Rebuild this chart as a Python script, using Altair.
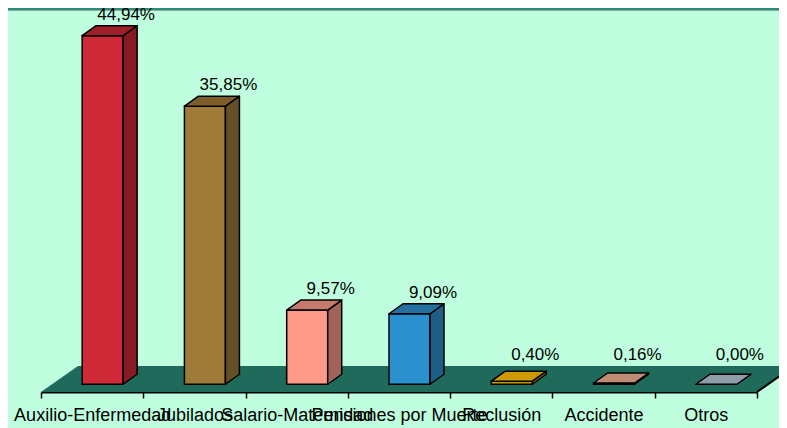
import altair as alt
import pandas as pd

# ---- data ----
categories = ["Auxilio-Enfermedad", "Jubilados", "Salario-Maternidad",
              "Pensiones por Muerte", "Reclusión", "Accidente", "Otros"]
values = [44.94, 35.85, 9.57, 9.09, 0.40, 0.16, 0.00]
value_labels = ["44,94%", "35,85%", "9,57%", "9,09%", "0,40%", "0,16%", "0,00%"]

front_colors = ["#CF2836", "#A07A38", "#FF9A8A", "#2A90CE", "#C89600", "#B07C66", "#7E8C98"]
side_colors = ["#871A22", "#654F24", "#A0645A", "#1D5E86", "#8A6A00", "#7E5646", "#5E6A74"]
top_colors = ["#A0202A", "#7E5E2A", "#C47A6C", "#2470A0", "#CC9900", "#C08C74", "#8E9DAA"]

# ---- layout constants (pixels) ----
W, H = 716, 380
X_MAX = len(categories)
Y_MIN, Y_MAX = -1, 48
PXX = W / X_MAX
PXY = H / (Y_MAX - Y_MIN)
BAR_SHIFT, BAR_W = 10.5, 41
DDX, DDY = 14 / PXX, 10 / PXY
FDX, FDY = 37 / PXX, 26 / PXY

front_rows, side_rows, top_rows, label_rows = [], [], [], []
for i, (c, v) in enumerate(zip(categories, values)):
    fl = i + 0.5 + (BAR_SHIFT - BAR_W / 2) / PXX
    fr = fl + BAR_W / PXX
    front_rows.append(dict(cat=c, x=fl, x2=fr, y=0, y2=v, fill=front_colors[i]))
    side_rows += [dict(cat=c, x=fr, y=0, y2=v, fill=side_colors[i]),
                  dict(cat=c, x=fr + DDX, y=DDY, y2=v + DDY, fill=side_colors[i])]
    top_rows += [dict(cat=c, y=v, x=fl, x2=fr, fill=top_colors[i]),
                 dict(cat=c, y=v + DDY, x=fl + DDX, x2=fr + DDX, fill=top_colors[i])]
    label_rows.append(dict(cat=c, ly=max(v, 1.0), text=value_labels[i]))

floor_rows = [dict(y=Y_MIN, x=0, x2=X_MAX),
              dict(y=Y_MIN + FDY, x=FDX, x2=X_MAX + FDX)]
edge_rows = [dict(x=X_MAX, y=Y_MIN, x2=X_MAX + FDX, y2=Y_MIN + FDY)]

xq = alt.Scale(domain=[0, X_MAX], nice=False, zero=False)
yq = alt.Scale(domain=[Y_MIN, Y_MAX], nice=False, zero=False)

band = alt.Chart(pd.DataFrame({"a": [0]})).mark_rect(color="#2A8C7A").encode(
    x=alt.value(-33), x2=alt.value(760), y=alt.value(-4), y2=alt.value(-2))
band_line = alt.Chart(pd.DataFrame({"a": [0]})).mark_rect(color="#8FA8A0").encode(
    x=alt.value(-33), x2=alt.value(760), y=alt.value(-2), y2=alt.value(-1))

floor = alt.Chart(pd.DataFrame(floor_rows)).mark_area(
    orient="horizontal", color="#1F6A5A").encode(
    y=alt.Y("y:Q", scale=yq, axis=None),
    x=alt.X("x:Q", scale=xq, axis=None),
    x2="x2:Q")

edge = alt.Chart(pd.DataFrame(edge_rows)).mark_rule(color="black", strokeWidth=2).encode(
    x=alt.X("x:Q", scale=xq, axis=None), x2="x2:Q",
    y=alt.Y("y:Q", scale=yq, axis=None), y2="y2:Q")

front = alt.Chart(pd.DataFrame(front_rows)).mark_rect(stroke="black", strokeWidth=1.5).encode(
    x=alt.X("x:Q", scale=xq, axis=None), x2="x2:Q",
    y=alt.Y("y:Q", scale=yq, axis=None), y2="y2:Q",
    fill=alt.Fill("fill:N", scale=None))

side = alt.Chart(pd.DataFrame(side_rows)).mark_area(
    orient="vertical", stroke="black", strokeWidth=1.5, strokeJoin="round").encode(
    x=alt.X("x:Q", scale=xq, axis=None),
    y=alt.Y("y:Q", scale=yq, axis=None), y2="y2:Q",
    fill=alt.Fill("fill:N", scale=None), detail="cat:N")

top = alt.Chart(pd.DataFrame(top_rows)).mark_area(
    orient="horizontal", stroke="black", strokeWidth=1.5, strokeJoin="round").encode(
    y=alt.Y("y:Q", scale=yq, axis=None),
    x=alt.X("x:Q", scale=xq, axis=None), x2="x2:Q",
    fill=alt.Fill("fill:N", scale=None), detail="cat:N")

labels = alt.Chart(pd.DataFrame(label_rows)).mark_text(
    font="Liberation Sans", fontSize=17, color="black", baseline="middle",
    align="center", dx=34, dy=-21).encode(
    x=alt.X("cat:N", sort=categories,
            scale=alt.Scale(paddingInner=0, paddingOuter=0),
            axis=alt.Axis(title=None, labelAngle=0, labelFont="Liberation Sans",
                          labelFontSize=18, labelColor="black", labelOverlap=False,
                          labelLimit=500, labelPadding=8, tickBand="extent",
                          tickSize=6, tickColor="black", tickWidth=1.5,
                          domainColor="black", domainWidth=2, grid=False)),
    y=alt.Y("ly:Q", scale=yq, axis=None),
    text="text:N")

chart = alt.layer(band, band_line, floor, edge, front, side, top, labels).resolve_scale(
    x="independent").properties(
    width=W, height=H,
    autosize=alt.AutoSizeParams(type="none"),
    padding={"left": 33, "top": 4, "right": 22, "bottom": 36},
    background="#BFFFDF").configure_view(stroke=None)

chart.save("out.html", embed_options={"renderer": "svg", "actions": False})
